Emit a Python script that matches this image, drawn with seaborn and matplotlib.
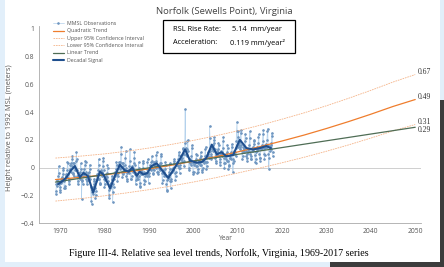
import numpy as np
import pandas as pd
import matplotlib.pyplot as plt
import seaborn as sns
from matplotlib.patches import Rectangle

# Monthly mean sea level (m, relative to 1992 MSL), one row per year from 1969
obs_start_year = 1969
obs_by_year = [
    [-0.19, -0.17, -0.12, -0.13, -0.10, -0.09, -0.11, -0.06, 0.01, -0.04, -0.12, -0.16],
    [-0.18, -0.14, -0.11, -0.08, -0.10, -0.07, -0.09, -0.05, -0.02, 0.00, -0.10, -0.15],
    [-0.15, -0.13, -0.08, -0.06, -0.05, -0.06, -0.07, -0.02, 0.04, 0.03, -0.05, -0.12],
    [-0.10, -0.08, -0.02, -0.01, 0.02, 0.03, -0.03, 0.01, 0.06, 0.08, 0.03, -0.05],
    [-0.04, -0.06, 0.01, 0.03, 0.00, -0.02, -0.01, 0.05, 0.11, 0.06, -0.02, -0.06],
    [-0.12, -0.10, -0.05, -0.07, -0.04, -0.06, -0.08, -0.03, 0.03, -0.01, -0.23, -0.10],
    [-0.09, -0.12, -0.06, -0.03, -0.05, -0.01, -0.04, 0.02, 0.05, 0.04, -0.03, -0.08],
    [-0.12, -0.10, -0.07, -0.09, -0.04, -0.06, -0.08, -0.03, 0.02, -0.01, -0.08, -0.14],
    [-0.24, -0.26, -0.18, -0.16, -0.14, -0.17, -0.19, -0.12, -0.08, -0.10, -0.15, -0.22],
    [-0.20, -0.17, -0.10, -0.08, -0.06, -0.05, -0.08, -0.02, 0.06, 0.02, -0.08, -0.12],
    [-0.12, -0.11, -0.04, -0.02, -0.05, -0.03, -0.06, 0.01, 0.05, 0.07, -0.02, -0.08],
    [-0.14, -0.12, -0.09, -0.06, -0.08, -0.05, -0.07, -0.04, 0.02, 0.00, -0.10, -0.16],
    [-0.22, -0.20, -0.15, -0.12, -0.14, -0.11, -0.13, -0.09, -0.06, -0.08, -0.25, -0.18],
    [-0.12, -0.14, -0.08, -0.04, -0.06, -0.03, -0.05, -0.01, 0.04, 0.02, -0.05, -0.10],
    [-0.06, -0.04, 0.02, 0.04, 0.01, -0.01, 0.00, 0.04, 0.10, 0.15, 0.03, -0.03],
    [-0.07, -0.05, 0.03, 0.01, -0.02, -0.01, -0.03, 0.02, 0.07, 0.12, 0.00, -0.06],
    [-0.10, -0.08, -0.04, -0.02, -0.03, -0.02, -0.04, 0.01, 0.05, 0.13, -0.01, -0.08],
    [-0.08, -0.06, -0.01, 0.01, -0.02, 0.00, -0.03, 0.03, 0.07, 0.11, 0.02, -0.05],
    [-0.12, -0.09, -0.04, -0.08, -0.07, -0.05, -0.08, -0.02, 0.04, 0.00, -0.06, -0.13],
    [-0.14, -0.11, -0.05, -0.02, -0.04, -0.03, -0.05, 0.00, 0.05, 0.03, -0.03, -0.09],
    [-0.12, -0.10, -0.06, -0.04, -0.05, -0.04, -0.06, -0.01, 0.04, 0.06, -0.05, -0.11],
    [-0.06, -0.04, 0.00, 0.02, -0.01, 0.01, -0.02, 0.04, 0.08, 0.05, -0.01, -0.05],
    [-0.04, -0.02, 0.03, 0.04, 0.02, 0.01, 0.00, 0.05, 0.09, 0.11, 0.02, -0.03],
    [-0.05, -0.03, 0.02, 0.00, 0.01, -0.01, -0.02, 0.03, 0.08, 0.10, 0.03, -0.04],
    [-0.11, -0.09, -0.03, -0.02, -0.05, -0.03, -0.06, -0.01, 0.04, 0.02, -0.06, -0.12],
    [-0.16, -0.17, -0.09, -0.06, -0.08, -0.05, -0.07, -0.03, 0.03, -0.01, -0.10, -0.15],
    [-0.10, -0.08, -0.03, -0.01, -0.02, 0.00, -0.02, 0.03, 0.06, 0.05, -0.04, -0.09],
    [-0.06, -0.03, 0.02, 0.03, 0.02, 0.04, 0.01, 0.06, 0.11, 0.09, 0.00, -0.04],
    [0.00, 0.02, 0.06, 0.08, 0.06, 0.07, 0.05, 0.10, 0.14, 0.13, 0.05, 0.01],
    [0.10, 0.18, 0.42, 0.14, 0.12, 0.09, 0.08, 0.13, 0.19, 0.20, 0.12, 0.05],
    [-0.02, 0.00, 0.04, 0.06, 0.03, 0.05, 0.02, 0.08, 0.16, 0.14, 0.03, -0.03],
    [-0.05, -0.03, 0.02, 0.04, 0.03, 0.05, 0.01, 0.06, 0.10, 0.09, 0.01, -0.04],
    [-0.03, -0.01, 0.03, 0.05, 0.03, 0.04, 0.02, 0.07, 0.11, 0.08, 0.02, -0.03],
    [-0.02, 0.00, 0.05, 0.06, 0.04, 0.05, 0.03, 0.08, 0.13, 0.15, 0.04, -0.01],
    [0.01, 0.04, 0.09, 0.11, 0.08, 0.10, 0.07, 0.12, 0.30, 0.21, 0.12, 0.06],
    [0.08, 0.10, 0.13, 0.15, 0.12, 0.16, 0.14, 0.18, 0.22, 0.20, 0.13, 0.07],
    [0.03, 0.05, 0.09, 0.11, 0.10, 0.12, 0.09, 0.13, 0.18, 0.16, 0.08, 0.02],
    [0.04, 0.06, 0.10, 0.12, 0.09, 0.11, 0.08, 0.14, 0.19, 0.22, 0.07, 0.03],
    [0.00, 0.03, 0.08, 0.10, 0.06, 0.09, 0.05, 0.11, 0.16, 0.14, 0.05, -0.01],
    [0.01, 0.02, 0.07, 0.09, 0.07, 0.10, 0.06, 0.11, 0.17, 0.15, 0.06, -0.03],
    [0.03, 0.05, 0.10, 0.12, 0.10, 0.11, 0.08, 0.14, 0.19, 0.26, 0.33, 0.16],
    [0.15, 0.22, 0.26, 0.18, 0.16, 0.15, 0.13, 0.19, 0.27, 0.25, 0.16, 0.12],
    [0.06, 0.08, 0.12, 0.15, 0.13, 0.14, 0.11, 0.19, 0.24, 0.21, 0.12, 0.08],
    [0.07, 0.05, 0.10, 0.12, 0.11, 0.13, 0.12, 0.16, 0.21, 0.26, 0.10, 0.06],
    [0.06, 0.08, 0.12, 0.14, 0.13, 0.15, 0.12, 0.17, 0.20, 0.19, 0.09, 0.04],
    [0.03, 0.06, 0.11, 0.14, 0.12, 0.15, 0.13, 0.18, 0.22, 0.24, 0.10, 0.07],
    [0.05, 0.07, 0.13, 0.15, 0.14, 0.16, 0.14, 0.19, 0.24, 0.27, 0.14, 0.10],
    [0.06, 0.09, 0.14, 0.16, 0.15, 0.17, 0.15, 0.20, 0.26, 0.28, 0.16, 0.10],
    [-0.01, 0.07, 0.12, 0.15, 0.14, 0.16, 0.13, 0.18, 0.25, 0.23, 0.11, 0.08],
]

# Decadal signal (smoothed)
decadal_years = [1969.6, 1970.5, 1971.5, 1972.5, 1973.4, 1974.5, 1975.3, 1976.3, 1977.5, 1978.3,
                 1979.0, 1979.8, 1981.3, 1982.4, 1983.5, 1984.6, 1985.5, 1986.3, 1987.3, 1988.0,
                 1988.8, 1989.7, 1990.6, 1991.8, 1992.9, 1994.4, 1995.9, 1997.0, 1998.2, 1999.3,
                 2000.8, 2002.0, 2003.0, 2004.2, 2005.3, 2006.4, 2007.5, 2009.0, 2010.5, 2012.0,
                 2013.5, 2015.0, 2016.5, 2017.5]
decadal_vals = [-0.12, -0.10, -0.07, -0.02, 0.01, -0.07, -0.04, -0.06, -0.18, -0.10,
                -0.03, -0.05, -0.15, -0.06, 0.02, -0.02, -0.03, 0.00, -0.06, -0.03,
                -0.05, -0.04, 0.01, 0.03, -0.015, -0.075, 0.00, 0.06, 0.13, 0.05,
                0.035, 0.04, 0.07, 0.165, 0.095, 0.11, 0.08, 0.09, 0.20, 0.14,
                0.13, 0.14, 0.155, 0.14]

# Trend curves and 95% confidence bounds
trend_years = [1969, 1975, 1980, 1985, 1990, 1995, 2000, 2005, 2010, 2015, 2020, 2025, 2030, 2035, 2040, 2045, 2050]
quad_vals = [-0.087, -0.070, -0.053, -0.033, -0.010, 0.016, 0.045, 0.077, 0.112, 0.150,
             0.191, 0.234, 0.281, 0.331, 0.384, 0.440, 0.49]
upper_vals = [0.068, 0.083, 0.098, 0.117, 0.140, 0.166, 0.195, 0.228, 0.264, 0.304,
              0.348, 0.394, 0.445, 0.499, 0.556, 0.616, 0.67]
lower_vals = [-0.242, -0.223, -0.204, -0.183, -0.160, -0.134, -0.105, -0.074, -0.040, -0.004,
              0.034, 0.074, 0.117, 0.163, 0.212, 0.264, 0.31]
linear_years = [1969, 2050]
linear_vals = [-0.105, 0.29]

end_labels = ['0.67', '0.49', '0.31', '0.29']
end_values = [0.67, 0.49, 0.31, 0.29]

# build the observation table
rows = []
for i, vals in enumerate(obs_by_year):
    for m, v in enumerate(vals):
        rows.append({'Year': obs_start_year + i + (m + 0.5) / 12, 'MSL': v})
obs = pd.DataFrame(rows)
dec = pd.DataFrame({'Year': decadal_years, 'MSL': decadal_vals})
trend = pd.DataFrame({'Year': trend_years, 'Quad': quad_vals, 'Upper': upper_vals, 'Lower': lower_vals})
lin = pd.DataFrame({'Year': linear_years, 'MSL': linear_vals})

sns.set_style('white')
plt.rcParams['font.family'] = ['Open Sans', 'DejaVu Sans']

W, H = 444, 267
fig = plt.figure(figsize=(W / 100, H / 100), dpi=100)
fig.patch.set_facecolor('#e2effa')
# page background of the screenshot
fig.add_artist(Rectangle((5 / W, 1 - 262 / H), 435 / W, 262 / H, transform=fig.transFigure,
                         facecolor='white', edgecolor='none', zorder=-2))
fig.add_artist(Rectangle((330 / W, 0), 114 / W, 5 / H, transform=fig.transFigure,
                         facecolor='#3c3c3c', edgecolor='none', zorder=-2))
fig.add_artist(Rectangle((440 / W, 0), 4 / W, 167 / H, transform=fig.transFigure,
                         facecolor='#3c3c3c', edgecolor='none', zorder=-2))

ax = fig.add_axes([39 / W, 1 - 223 / H, 382 / W, 197 / H])
ax.set_facecolor('none')

ax.axhline(0, color='#c8c8c8', lw=0.6, zorder=1)

sns.lineplot(data=obs, x='Year', y='MSL', ax=ax, color='#b3d1ec', lw=0.5,
             marker='o', markersize=1.1, markerfacecolor='#6f96c0', markeredgecolor='#6f96c0',
             label='MMSL Observations', zorder=2)
sns.lineplot(data=trend, x='Year', y='Quad', ax=ax, color='#ef7d2d', lw=0.9,
             label='Quadratic Trend', zorder=4)
sns.lineplot(data=trend, x='Year', y='Upper', ax=ax, color='#f5b489', lw=0.6,
             linestyle=(0, (2, 1)), label='Upper 95% Confidence Interval', zorder=3)
sns.lineplot(data=trend, x='Year', y='Lower', ax=ax, color='#f5b489', lw=0.6,
             linestyle=(0, (2, 1)), label='Lower 95% Confidence Interval', zorder=3)
sns.lineplot(data=lin, x='Year', y='MSL', ax=ax, color='#4f6d55', lw=0.9,
             label='Linear Trend', zorder=4)
sns.lineplot(data=dec, x='Year', y='MSL', ax=ax, color='#1f4f8e', lw=1.5,
             label='Decadal Signal', zorder=5)

# values at 2050
offsets = [3, 3, 3, -2.5]
for lab, v, dy in zip(end_labels, end_values, offsets):
    ax.annotate(lab, xy=(2050, v), xytext=(2, dy * 0.72), textcoords='offset points',
                fontsize=5.5, family='Liberation Serif', color='#333333', va='center', ha='left')

ax.set_xlim(1965.3, 2051.3)
ax.set_ylim(-0.4, 1.02)
ax.set_xticks(range(1970, 2051, 10))
ax.set_yticks([-0.4, -0.2, 0, 0.2, 0.4, 0.6, 0.8, 1.0])
ax.set_yticklabels(['\u22120.4', '\u22120.2', '0', '0.2', '0.4', '0.6', '0.8', '1'])
ax.tick_params(axis='both', labelsize=4.9, colors='#888888', length=2, width=0.5, pad=1.5,
               labelcolor='#555555')
for s in ['top', 'right']:
    ax.spines[s].set_visible(False)
for s in ['left', 'bottom']:
    ax.spines[s].set_color('#aaaaaa')
    ax.spines[s].set_linewidth(0.6)
ax.set_xlabel('')
ax.set_ylabel('')

leg = ax.legend(loc='upper left', bbox_to_anchor=(53 / W, 1 - 21 / H), bbox_transform=fig.transFigure,
                frameon=False, fontsize=3.8, handlelength=2.0, handletextpad=0.6,
                labelspacing=0.45, borderaxespad=0, borderpad=0)
for t in leg.get_texts():
    t.set_color('#555555')

fig.text(224 / W, 1 - 12 / H, 'Norfolk (Sewells Point), Virginia', ha='center', va='center',
         fontsize=6.8, color='#444444')
fig.text(226 / W, 1 - 239 / H, 'Year', ha='center', va='center', fontsize=4.8, color='#555555')
fig.text(10 / W, 1 - 128 / H, 'Height relative to 1992 MSL (meters)', ha='center', va='center',
         rotation=90, fontsize=5.4, color='#555555')

# rate box
fig.add_artist(Rectangle((163 / W, 1 - 52.5 / H), 132 / W, 33 / H, transform=fig.transFigure,
                         facecolor='white', edgecolor='black', lw=0.9, zorder=3))
fig.text(173 / W, 1 - 29.5 / H, 'RSL Rise Rate:', fontsize=5.3, va='center', color='black', zorder=4)
fig.text(232 / W, 1 - 29.5 / H, '5.14  mm/year', fontsize=5.3, va='center', color='black', zorder=4)
fig.text(173 / W, 1 - 42.5 / H, 'Acceleration:', fontsize=5.3, va='center', color='black', zorder=4)
fig.text(230 / W, 1 - 42.5 / H, '0.119 mm/year\u00b2', fontsize=5.3, va='center', color='black', zorder=4)

fig.text(219 / W, 1 - 253 / H,
         'Figure III-4. Relative sea level trends, Norfolk, Virginia, 1969-2017 series',
         ha='center', va='center', fontsize=7.2, family='Liberation Serif', color='black')

fig.savefig('out.png', dpi=100)
